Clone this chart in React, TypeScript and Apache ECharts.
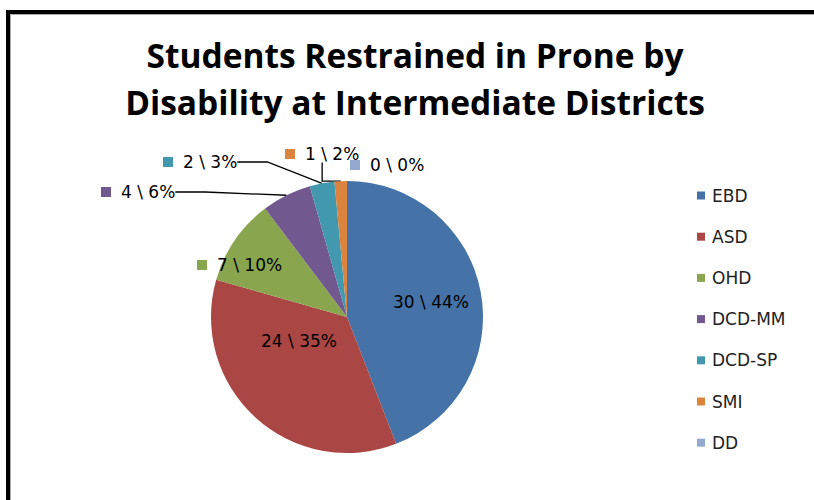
import React, { useEffect, useRef } from "react";
import * as echarts from "echarts";

const categories = ["EBD", "ASD", "OHD", "DCD-MM", "DCD-SP", "SMI", "DD"];
const counts = [30, 24, 7, 4, 2, 1, 0];
const colors = ["#4572A7", "#AA4643", "#89A54E", "#71588F", "#4198AF", "#DB843D", "#93A9CF"];
const titleLines = ["Students Restrained in Prone by", "Disability at Intermediate Districts"];

// label placement (layout only): [x, y, inside, leaderLine]
const labelPlace: Record<string, [number, number, boolean, boolean]> = {
  EBD: [431, 302, true, false],
  ASD: [299, 341, true, false],
  OHD: [197, 265, false, false],
  "DCD-MM": [101, 192, false, true],
  "DCD-SP": [163, 162, false, true],
  SMI: [285, 154, false, true],
  DD: [350, 165, false, false],
};

const FONT = "DejaVu Sans";

export default function App() {
  const ref = useRef<HTMLDivElement>(null);
  useEffect(() => {
    if (!ref.current) return;
    const chart = echarts.init(ref.current, null, { renderer: "svg" });
    const rich: any = {
      t: { fontSize: 17, color: "#000", fontFamily: FONT, padding: [0, 0, 0, 10] },
      ti: { fontSize: 17, color: "#000", fontFamily: FONT },
    };
    colors.forEach((c, i) => {
      rich["sq" + i] = { width: 10, height: 10, backgroundColor: c };
    });
    chart.setOption({
      animation: false,
      backgroundColor: "#fff",
      title: {
        text: titleLines.join("\n"),
        left: 415,
        textAlign: "center",
        top: 31,
        padding: 0,
        textStyle: { fontFamily: "Open Sans", fontWeight: "bold", fontSize: 33.5, lineHeight: 47, color: "#000" },
      },
      legend: {
        orient: "vertical",
        left: 697,
        top: 187,
        padding: 0,
        itemWidth: 8,
        itemHeight: 8,
        itemGap: 24.2,
        icon: "rect",
        data: categories,
        textStyle: { fontFamily: FONT, fontSize: 17, lineHeight: 16, color: "#222", padding: [0, 0, 0, 2] },
      },
      graphic: [
        { type: "rect", shape: { x: 8, y: 12, width: 900, height: 600 }, style: { fill: "none", stroke: "#000", lineWidth: 4 }, silent: true },
        { type: "rect", shape: { x: 10.5, y: 14.5, width: 900, height: 600 }, style: { fill: "none", stroke: "#aaa", lineWidth: 1 }, silent: true },
      ],
      series: [
        {
          type: "pie",
          center: [347, 317],
          radius: 136,
          startAngle: 90,
          clockwise: true,
          percentPrecision: 0,
          avoidLabelOverlap: false,
          itemStyle: { borderWidth: 0 },
          emphasis: { disabled: true },
          data: categories.map((name, i) => ({
            name,
            value: counts[i],
            itemStyle: { color: colors[i] },
            labelLine: { show: labelPlace[name][3] },
          })),
          label: {
            show: true,
            position: "outside",
            rich,
            formatter: (p: any) => {
              const txt = `${p.value} \\ ${p.percent}%`;
              return labelPlace[p.name][2] ? `{ti|${txt}}` : `{sq${p.dataIndex}|}{t|${txt}}`;
            },
          },
          labelLine: { show: true, lineStyle: { color: "#000", width: 1.3 } },
          labelLayout: (p: any) => {
            const name = categories[p.dataIndex];
            const [x, y, inside] = labelPlace[name];
            return { x, y, align: inside ? "center" : "left", verticalAlign: "middle" };
          },
        },
      ],
    });
    return () => chart.dispose();
  }, []);
  return <div ref={ref} style={{ position: "absolute", left: 0, top: 0, width: 814, height: 500 }} />;
}
